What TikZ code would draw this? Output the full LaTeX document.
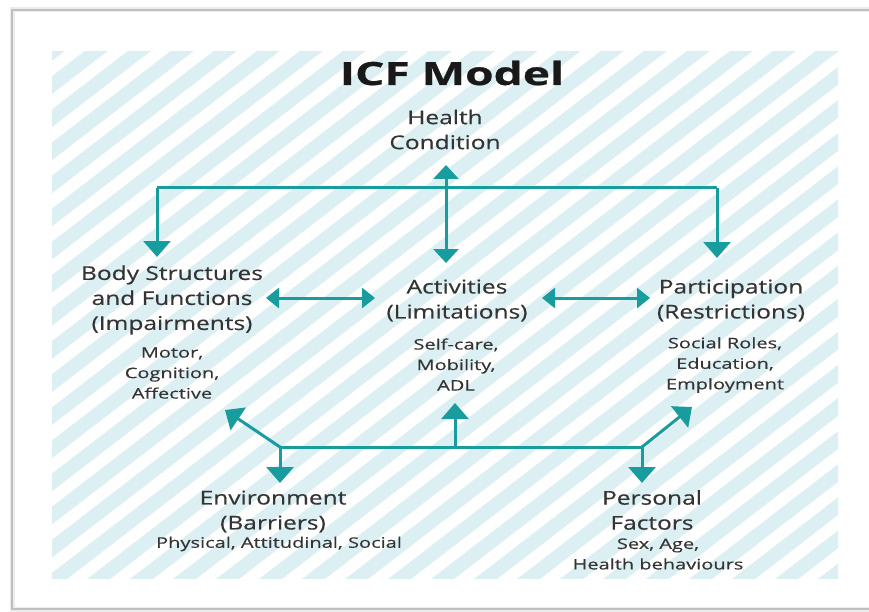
\documentclass[tikz,border=0pt]{standalone}
\usepackage{fontspec}
\setmainfont{Open Sans}
\newfontfamily\lblfont{Open Sans}[FakeStretch=1.29, FakeBold=0.35]
\newfontfamily\subfont{Open Sans}[FakeStretch=1.38, FakeBold=0.35]
\newfontfamily\titlefont{Open Sans}[FakeStretch=1.44, FakeBold=0.8]
\usetikzlibrary{arrows.meta}
\definecolor{tealc}{RGB}{24,156,158}
\definecolor{stripec}{RGB}{220,240,244}
\definecolor{txtc}{RGB}{52,52,52}
\begin{document}
\begin{tikzpicture}[x=1pt,y=-1pt,
  lbl/.style={text=txtc, font=\lblfont\fontsize{19}{25}\selectfont, align=center, inner sep=0pt},
  sub/.style={text=txtc, font=\subfont\fontsize{14.5}{20.5}\selectfont, align=center, inner sep=0pt},
  conn/.style={draw=tealc, line width=3pt},
  bigtip/.style={-{Triangle[width=27pt,length=16pt]}},
  bothbig/.style={{Triangle[width=25pt,length=14pt]}-{Triangle[width=25pt,length=14pt]}},
  bothsmall/.style={{Triangle[width=20pt,length=13pt]}-{Triangle[width=20pt,length=13pt]}}
]
\useasboundingbox (0,0) rectangle (869,612);
\clip (0,0) rectangle (869,612);
\fill[white] (0,0) rectangle (869,612);
% frame
\draw[gray!15, line width=5pt] (12,10) rectangle (890,609);
\draw[gray!50, line width=1.6pt] (12,10) rectangle (890,609);
% hatched background
\begin{scope}
  \clip (52,52) rectangle (838,578);
  \foreach \k in {0,...,38} {
    \draw[stripec, line width=14pt] ({-685.7+\k*43},620) -- ++(800,-616);
  }
\end{scope}
% title
\node[text=black!90, font=\titlefont\bfseries\fontsize{32}{36}\selectfont, inner sep=0pt] (title) at (452,73) {ICF Model};
% labels
\node[lbl] (hc) at (445,129.5) {Health\\Condition};
\node[lbl] (bs) at (172,300) {Body Structures\\and Functions\\(Impairments)};
\node[sub] (bssub) at (172,373) {Motor,\\Cognition,\\Affective};
\node[lbl] (act) at (457,300.5) {Activities\\(Limitations)};
\node[sub] (actsub) at (456,364.5) {Self-care,\\Mobility,\\ADL};
\node[lbl] (par) at (731,300.5) {Participation\\(Restrictions)};
\node[sub] (parsub) at (725,365) {Social Roles,\\Education,\\Employment};
\node[lbl] (env) at (273,511.5) {Environment\\(Barriers)};
\node[sub] (envsub) at (279,544) {Physical, Attitudinal, Social};
\node[lbl] (pf) at (652,510) {Personal\\Factors};
\node[sub] (pfsub) at (658,554) {Sex, Age,\\Health behaviours};
% connector points
\coordinate (hcB) at (446,165);
\coordinate (actT) at (446,263);
\coordinate (jl) at (157,188);
\coordinate (jr) at (717,188);
\coordinate (bsT) at (157,257);
\coordinate (parT) at (717,258);
\coordinate (bsR) at (266,298);
\coordinate (actL) at (375,298);
\coordinate (actR) at (542,298);
\coordinate (parL) at (650,298);
\coordinate (bl) at (280,447);
\coordinate (bm) at (455,447);
\coordinate (br) at (642,447);
\coordinate (actB) at (455,403);
\coordinate (bsB) at (225,410);
\coordinate (parB) at (692,407);
\coordinate (envT) at (280,483);
\coordinate (pfT) at (642,483);
% top connectors
\draw[conn, bothbig] (hcB) -- (actT);
\draw[conn] (jl) -- (jr);
\draw[conn, bigtip] (jl) -- (bsT);
\draw[conn, bigtip] (jr) -- (parT);
% horizontal double arrows
\draw[conn, bothsmall] (bsR) -- (actL);
\draw[conn, bothsmall] (actR) -- (parL);
% bottom connectors
\draw[conn] (bl) -- (br);
\draw[conn, bigtip] (bm) -- (actB);
\draw[conn, bigtip] (bl) -- (bsB);
\draw[conn, bigtip] (br) -- (parB);
\draw[conn, bigtip] (bl) -- (envT);
\draw[conn, bigtip] (br) -- (pfT);
\end{tikzpicture}
\end{document}
